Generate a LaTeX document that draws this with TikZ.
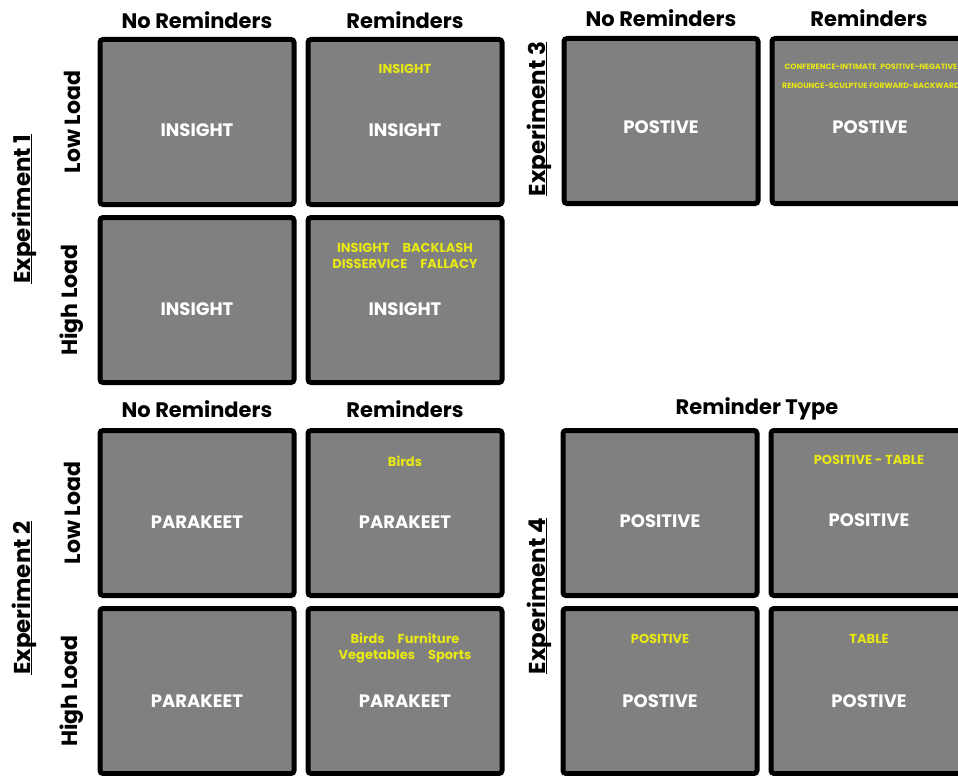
\documentclass[tikz,border=0pt]{standalone}
\usepackage{fontspec}
\setmainfont{Poppins}
\usetikzlibrary{positioning}
\definecolor{boxgray}{RGB}{128,128,128}
\definecolor{cueyellow}{RGB}{232,232,20}

\begin{document}
\begin{tikzpicture}[x=1pt,y=-1pt,node distance=8pt and 9pt,
    cell/.style={draw=black,line width=5pt,fill=boxgray,rounded corners=3pt,
      minimum width=194pt,minimum height=165pt,inner sep=0pt},
    word/.style={text=white,font=\bfseries\fontsize{18}{20}\selectfont},
    cue/.style={text=cueyellow,align=center,font=\bfseries\fontsize{13}{16}\selectfont},
    tiny/.style={text=cueyellow,align=center,font=\bfseries\fontsize{7.7}{19}\selectfont},
    head/.style={font=\bfseries\fontsize{21}{24}\selectfont},
    side/.style={font=\bfseries\fontsize{22}{26}\selectfont,rotate=90},
    expt/.style={font=\bfseries\fontsize{23}{26}\selectfont,rotate=90}]
    \useasboundingbox (0,0) rectangle (958,776);
    \node[cell] (e1ln) at (197,122) {};
    \node[cell,right=of e1ln] (e1lr) {};
    \node[cell,below=of e1ln] (e1hn) {};
    \node[cell,below=of e1lr] (e1hr) {};
    \node[cell] (e3n) at (661,121) {};
    \node[cell,right=of e3n] (e3r) {};
    \node[cell] (e2ln) at (197,513) {};
    \node[cell,right=of e2ln] (e2lr) {};
    \node[cell,below=of e2ln] (e2hn) {};
    \node[cell,below=of e2lr] (e2hr) {};
    \node[cell] (e4a) at (660,513) {};
    \node[cell,right=of e4a] (e4b) {};
    \node[cell,below=of e4a] (e4c) {};
    \node[cell,below=of e4b] (e4d) {};

    \node[head] (h1n) at (197,20) {No Reminders};
    \node[head] (h1r) at (405,20) {Reminders};
    \node[head] (h3n) at (661,18) {No Reminders};
    \node[head] (h3r) at (869,18) {Reminders};
    \node[head] (h2n) at (197,409) {No Reminders};
    \node[head] (h2r) at (405,409) {Reminders};
    \node[head] (h4) at (757,409) {Reminder Type};

    \node[expt] (x1) at (31,209) {\underline{\smash{Experiment 1}}};
    \node[expt] (x2) at (31,598) {\underline{\smash{Experiment 2}}};
    \node[expt] (x3) at (546,119) {\underline{\smash{Experiment 3}}};
    \node[expt] (x4) at (546,596) {\underline{\smash{Experiment 4}}};
    \node[side] (l1) at (72,122) {Low Load};
    \node[side] (hl1) at (72,300) {High Load};
    \node[side] (l2) at (72,513) {Low Load};
    \node[side] (hl2) at (72,691) {High Load};

    \node[word] (t1) at (197,130) {INSIGHT};
    \node[word] (t2) at (405,130) {INSIGHT};
    \node[word] (t3) at (197,309) {INSIGHT};
    \node[word] (t4) at (405,309) {INSIGHT};
    \node[word] (t5) at (661,127) {POSTIVE};
    \node[word] (t6) at (870,127) {POSTIVE};
    \node[word] (t7) at (197,522) {PARAKEET};
    \node[word] (t8) at (405,522) {PARAKEET};
    \node[word] (t9) at (197,701) {PARAKEET};
    \node[word] (t10) at (405,701) {PARAKEET};
    \node[word] (t11) at (660,521) {POSITIVE};
    \node[word] (t12) at (869,520) {POSITIVE};
    \node[word] (t13) at (660,701) {POSTIVE};
    \node[word] (t14) at (869,701) {POSTIVE};

    \node[cue] (c2) at (405,69) {INSIGHT};
    \node[cue] (c4) at (405,256) {INSIGHT\quad BACKLASH\\DISSERVICE\quad FALLACY};
    \node[tiny] (c6) at (871,76) {CONFERENCE-INTIMATE\enspace POSITIVE-NEGATIVE\\RENOUNCE-SCULPTUE FORWARD-BACKWARD};
    \node[cue] (c8) at (405,461) {Birds};
    \node[cue] (c10) at (405,648) {Birds\quad Furniture\\Vegetables\quad Sports};
    \node[cue] (c12) at (869,460) {POSITIVE - TABLE};
    \node[cue] (c13) at (660,639) {POSITIVE};
    \node[cue] (c14) at (869,639) {TABLE};
\end{tikzpicture}
\end{document}
